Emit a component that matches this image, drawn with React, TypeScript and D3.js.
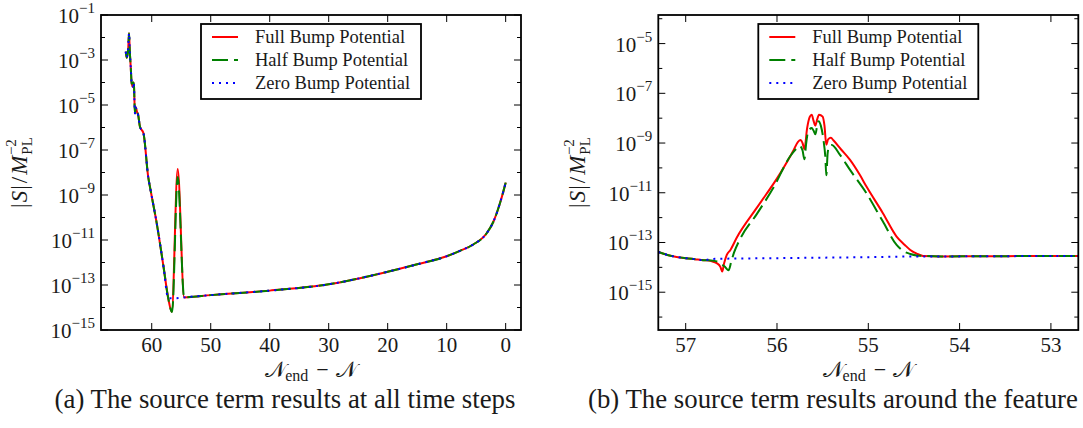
import React from 'react';
import * as d3 from 'd3';

// ---------------- data ----------------
const seriesLabels = ['Full Bump Potential', 'Half Bump Potential', 'Zero Bump Potential'];
const seriesColors = ['#ff0000', '#008000', '#0000ff'];

// Panel (a): x = N_end - N, y = log10(|S|/M_PL^-2)
const leftSharedN = [64.4, 64.25, 64.1, 64.0, 63.85, 63.7, 63.56, 63.4, 63.2, 63.1, 63.0, 62.85, 62.7, 62.5, 62.3, 62.0, 61.4, 60.6, 60.2, 59.15, 58.0, 57.2];
const leftSharedLog = [-2.63, -2.9, -2.75, -2.56, -1.81, -2.7, -3.3, -4.04, -4.19, -4.0, -4.2, -5.37, -5.1, -5.3, -5.44, -5.96, -6.26, -8.19, -8.78, -10.26, -12.19, -13.59];
const leftFullBumpN = [56.6, 55.6, 54.5];
const leftFullBumpLog = [-14.19, -7.85, -13.55];
const leftHalfBumpN = [56.55, 55.6, 54.5];
const leftHalfBumpLog = [-14.2, -8.2, -13.55];
const leftZeroBumpN = [56.0, 54.5];
const leftZeroBumpLog = [-13.59, -13.55];
const leftTailN = [50, 40, 30, 20, 15, 10, 7.75, 5.49, 3.22, 2.1, 0.97, 0.4, 0];
const leftTailLog = [-13.45, -13.25, -12.97, -12.41, -12.08, -11.72, -11.48, -11.2, -10.7, -10.2, -9.37, -8.85, -8.45];

// Panel (b)
const rightSharedN = [57.3, 57.2, 57.1, 57.0, 56.9, 56.8];
const rightSharedLog = [-13.38, -13.5, -13.58, -13.63, -13.67, -13.71];
const rightFullN = [56.72, 56.66, 56.62, 56.6, 56.58, 56.55, 56.51, 56.44, 56.22, 55.97, 55.82, 55.77, 55.74, 55.72, 55.7, 55.67, 55.64, 55.62, 55.6, 55.58, 55.56, 55.54, 55.5, 55.48, 55.46, 55.44, 55.41, 55.38, 55.3, 55.2, 55.09, 55.02, 54.84, 54.69, 54.6, 54.54, 54.47, 54.4];
const rightFullLog = [-13.75, -13.83, -13.98, -14.17, -13.85, -13.5, -13.3, -12.8, -11.6, -10.25, -9.3, -8.95, -8.88, -9.0, -9.25, -8.4, -7.94, -7.86, -8.1, -8.3, -8.05, -7.86, -7.94, -8.3, -9.07, -8.85, -8.79, -8.9, -9.25, -9.68, -10.3, -10.75, -11.82, -12.76, -13.1, -13.3, -13.45, -13.54];
const rightHalfN = [56.72, 56.66, 56.62, 56.57, 56.53, 56.5, 56.47, 56.41, 56.22, 56.04, 55.85, 55.78, 55.75, 55.72, 55.7, 55.68, 55.66, 55.62, 55.6, 55.58, 55.56, 55.545, 55.52, 55.49, 55.47, 55.46, 55.445, 55.43, 55.4, 55.31, 55.2, 55.02, 54.84, 54.69, 54.6, 54.54, 54.47, 54.4];
const rightHalfLog = [-13.72, -13.76, -13.84, -13.98, -14.12, -13.75, -13.4, -12.9, -11.85, -10.8, -9.5, -9.2, -9.12, -9.3, -9.65, -9.0, -8.55, -8.4, -8.5, -8.65, -8.3, -8.12, -8.3, -8.9, -9.6, -10.3, -9.4, -9.15, -9.08, -9.48, -10.08, -11.02, -12.16, -13.1, -13.38, -13.46, -13.52, -13.54];
const rightZeroN = [56.7, 56.0, 55.0, 54.4];
const rightZeroLog = [-13.66, -13.63, -13.59, -13.56];
const rightTailN = [54.2, 53.5, 52.7];
const rightTailLog = [-13.56, -13.55, -13.54];

// ticks
const leftXTicks = [60, 50, 40, 30, 20, 10, 0];
const leftYLabelExp = [-1, -3, -5, -7, -9, -11, -13, -15];
const leftYMinorExp = [-2, -4, -6, -8, -10, -12, -14];
const rightXTicks = [57, 56, 55, 54, 53];
const rightYLabelExp = [-5, -7, -9, -11, -13, -15];
const rightYMinorExp = [-4, -6, -8, -10, -12, -14, -16];

const captions = ['(a) The source term results at all time steps', '(b) The source term results around the feature'];

// ---------------- helpers ----------------
type Pt = { n: number; v: number };
const zip = (ns: number[][], ls: number[][]): Pt[] => {
  const out: Pt[] = [];
  ns.forEach((arr, k) => arr.forEach((n, i) => out.push({ n, v: Math.pow(10, ls[k][i]) })));
  return out;
};

const FONT = '"Liberation Serif", "DejaVu Serif", serif';
const dashes = [undefined, '16,6', '2,5'];

type PanelProps = {
  x0: number; x1: number; y0: number; y1: number;
  xDomain: [number, number]; yDomain: [number, number];
  series: Pt[][]; xTicks: number[]; yLabelExp: number[]; yMinorExp: number[];
  curve: d3.CurveFactory; legendX: number; caption: string; captionX: number; captionAnchor: string;
  ylabelX: number;
};

function Panel(p: PanelProps) {
  const x = d3.scaleLinear().domain(p.xDomain).range([p.x0, p.x1]);
  const y = d3.scaleLog().domain(p.yDomain).range([p.y1, p.y0]);
  const line = d3.line<Pt>().x(d => x(d.n)).y(d => y(d.v)).curve(p.curve);
  const cx = (p.x0 + p.x1) / 2;
  const cy = (p.y0 + p.y1) / 2;
  const tickFs = 21;
  const majorLen = 7, minorLen = 4;
  return (
    <g fontFamily={FONT} fill="#1a1a1a">
      <defs>
        <clipPath id={`clip-${Math.round(p.x0)}`}>
          <rect x={p.x0} y={p.y0} width={p.x1 - p.x0} height={p.y1 - p.y0} />
        </clipPath>
      </defs>
      <g clipPath={`url(#clip-${Math.round(p.x0)})`} fill="none">
        {p.series.map((s, i) => (
          <path key={i} d={line(s) || ''} stroke={seriesColors[i]} strokeWidth={2}
            strokeDasharray={dashes[i]} strokeLinejoin="round" />
        ))}
      </g>
      {/* ticks */}
      {p.xTicks.map(t => (
        <g key={`xt${t}`} stroke="#000" strokeWidth={1}>
          <line x1={x(t)} x2={x(t)} y1={p.y1} y2={p.y1 - majorLen} />
          <line x1={x(t)} x2={x(t)} y1={p.y0} y2={p.y0 + majorLen} />
        </g>
      ))}
      {p.yLabelExp.map(e => (
        <g key={`ym${e}`} stroke="#000" strokeWidth={1}>
          <line x1={p.x0} x2={p.x0 + majorLen} y1={y(Math.pow(10, e))} y2={y(Math.pow(10, e))} />
          <line x1={p.x1} x2={p.x1 - majorLen} y1={y(Math.pow(10, e))} y2={y(Math.pow(10, e))} />
        </g>
      ))}
      {p.yMinorExp.map(e => (
        <g key={`yn${e}`} stroke="#000" strokeWidth={1}>
          <line x1={p.x0} x2={p.x0 + minorLen} y1={y(Math.pow(10, e))} y2={y(Math.pow(10, e))} />
          <line x1={p.x1} x2={p.x1 - minorLen} y1={y(Math.pow(10, e))} y2={y(Math.pow(10, e))} />
        </g>
      ))}
      {/* frame */}
      <rect x={p.x0} y={p.y0} width={p.x1 - p.x0} height={p.y1 - p.y0} fill="none" stroke="#000" strokeWidth={1.8} />
      {/* tick labels */}
      {p.xTicks.map(t => (
        <text key={`xl${t}`} x={x(t)} y={p.y1 + 22} textAnchor="middle" fontSize={tickFs}>{t}</text>
      ))}
      {p.yLabelExp.map(e => (
        <text key={`yl${e}`} x={p.x0 - 6} y={y(Math.pow(10, e)) + 8} textAnchor="end" fontSize={tickFs}>
          10<tspan fontSize={15} dy={-10}>{`\u2212${Math.abs(e)}`}</tspan>
        </text>
      ))}
      {/* axis labels */}
      <text x={cx} y={p.y1 + 47} textAnchor="middle" fontSize={22}>
        <tspan>{'\u{1D4A9}'}</tspan>
        <tspan fontSize={16} dy={4} dx={-1}>end</tspan>
        <tspan dy={-4} dx={8} fontSize={22}>{'\u2212'}</tspan>
        <tspan dx={7}>{'\u{1D4A9}'}</tspan>
      </text>
      <g transform={`translate(${p.ylabelX},${cy}) rotate(-90)`}>
        <text x={0} y={0} textAnchor="middle" fontSize={23}>
          |<tspan fontStyle="italic" dx={1}>S</tspan><tspan dx={1}>|</tspan><tspan dx={2}>/</tspan><tspan fontStyle="italic" dx={2}>M</tspan>
          <tspan fontSize={15} dy={5} dx={1}>PL</tspan>
          <tspan fontSize={15} dx={-18} dy={-16}>{'\u22122'}</tspan>
        </text>
      </g>
      {/* legend */}
      <rect x={p.legendX} y={p.y0 + 9} width={220} height={75} fill="#fff" stroke="#000" strokeWidth={1.8} />
      {seriesLabels.map((lab, i) => {
        const ly = p.y0 + 22 + i * 23;
        return (
          <g key={lab}>
            <line x1={p.legendX + 11} x2={p.legendX + 37} y1={ly} y2={ly} stroke={seriesColors[i]} strokeWidth={2}
              strokeDasharray={dashes[i]} />
            <text x={p.legendX + 54} y={ly + 6} fontSize={18.5}>{lab}</text>
          </g>
        );
      })}
      <text x={p.captionX} y={408} textAnchor={p.captionAnchor} fontSize={26.8}>{p.caption}</text>
    </g>
  );
}

export default function App() {
  const leftSeries = [
    zip([leftSharedN, leftFullBumpN, leftTailN], [leftSharedLog, leftFullBumpLog, leftTailLog]),
    zip([leftSharedN, leftHalfBumpN, leftTailN], [leftSharedLog, leftHalfBumpLog, leftTailLog]),
    zip([leftSharedN, leftZeroBumpN, leftTailN], [leftSharedLog, leftZeroBumpLog, leftTailLog]),
  ];
  const rightSeries = [
    zip([rightSharedN, rightFullN, rightTailN], [rightSharedLog, rightFullLog, rightTailLog]),
    zip([rightSharedN, rightHalfN, rightTailN], [rightSharedLog, rightHalfLog, rightTailLog]),
    zip([rightSharedN, rightZeroN, rightTailN], [rightSharedLog, rightZeroLog, rightTailLog]),
  ];
  return (
    <svg width={1083} height={428} style={{ position: 'absolute', left: 0, top: 0, background: '#fff' }}>
      <rect width={1083} height={428} fill="#fff" />
      <Panel x0={101} x1={521} y0={15} y1={330} xDomain={[68.6, -2.6]} yDomain={[1e-15, 1e-1]}
        series={leftSeries} xTicks={leftXTicks} yLabelExp={leftYLabelExp} yMinorExp={leftYMinorExp}
        curve={d3.curveMonotoneX} legendX={201} caption={captions[0]} captionX={285} captionAnchor="middle" ylabelX={27} />
      <Panel x0={658.3} x1={1078.3} y0={15} y1={330} xDomain={[57.3, 52.7]}
        yDomain={[Math.pow(10, -16.52), Math.pow(10, -3.85)]}
        series={rightSeries} xTicks={rightXTicks} yLabelExp={rightYLabelExp} yMinorExp={rightYMinorExp}
        curve={d3.curveMonotoneX} legendX={758.3} caption={captions[1]} captionX={588} captionAnchor="start" ylabelX={585} />
    </svg>
  );
}
